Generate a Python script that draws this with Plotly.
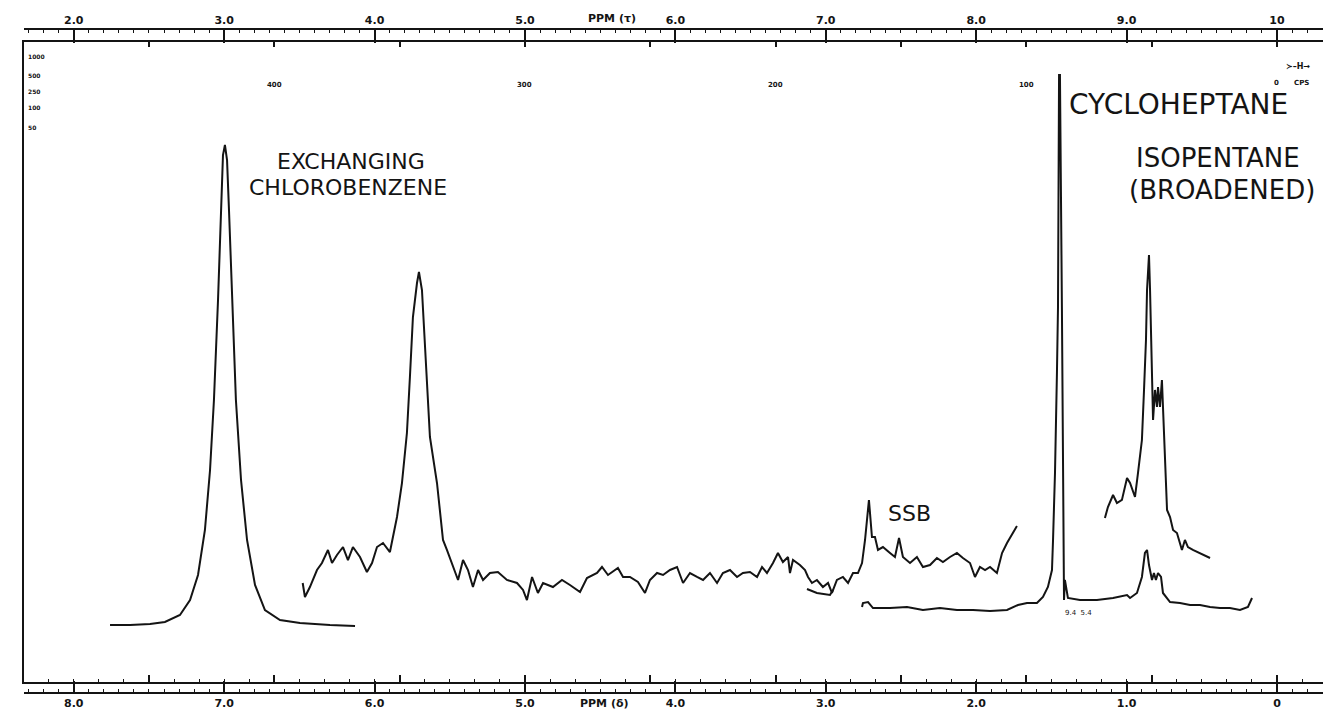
import plotly.graph_objects as go

# ---------------- data (delta ppm, relative intensity 0-100) ----------------
chloro_ppm = [7.759, 7.626, 7.493, 7.394, 7.294, 7.227, 7.174, 7.128, 7.094, 7.068, 7.041, 7.021,
              7.008, 6.995, 6.981, 6.968, 6.948, 6.922, 6.888, 6.848, 6.795, 6.729, 6.629, 6.496,
              6.297, 6.130]
chloro_int = [8.91, 8.91, 9.06, 9.38, 10.47, 12.81, 16.72, 23.75, 33.13, 44.06, 59.69, 75.31,
              82.34, 83.91, 81.56, 73.75, 59.69, 44.06, 31.56, 22.19, 15.16, 11.25, 9.69, 9.22,
              8.91, 8.75]

mid_ppm = [6.478, 6.463, 6.430, 6.383, 6.350, 6.310, 6.283, 6.250, 6.210, 6.177, 6.144, 6.097,
           6.051, 6.017, 5.984, 5.944, 5.898, 5.851, 5.818, 5.785, 5.765, 5.745, 5.718, 5.705,
           5.685, 5.665, 5.632, 5.585, 5.545, 5.519, 5.479, 5.445, 5.412, 5.379, 5.346, 5.312,
           5.279, 5.233, 5.180, 5.120, 5.053, 5.013, 4.987, 4.953, 4.914, 4.880, 4.814, 4.754,
           4.701, 4.634, 4.588, 4.521, 4.488, 4.448, 4.382, 4.348, 4.302, 4.249, 4.202, 4.169,
           4.122, 4.082, 4.036, 3.989, 3.949, 3.903, 3.856, 3.816, 3.770, 3.723, 3.684, 3.637,
           3.590, 3.551, 3.504, 3.457, 3.424, 3.391, 3.351, 3.318, 3.285, 3.251, 3.238, 3.218,
           3.172, 3.138, 3.118, 3.092, 3.059, 3.019, 2.985, 2.959, 2.926, 2.886, 2.852, 2.819,
           2.786, 2.759, 2.739, 2.713, 2.693, 2.673, 2.653, 2.620, 2.573, 2.540, 2.513, 2.487,
           2.440, 2.394, 2.354, 2.307, 2.261, 2.221, 2.174, 2.128, 2.088, 2.041, 2.008, 1.975,
           1.941, 1.908, 1.862, 1.828, 1.795, 1.762, 1.729]
mid_int = [15.47, 13.28, 14.84, 17.50, 18.59, 20.63, 18.59, 19.84, 21.09, 19.06, 21.09, 19.53,
           17.19, 18.59, 21.09, 21.72, 20.31, 25.78, 31.09, 38.91, 47.66, 57.03, 62.34, 64.06,
           61.25, 51.88, 38.28, 31.09, 22.19, 20.63, 17.97, 15.94, 19.06, 17.50, 14.84, 17.50,
           15.94, 17.03, 17.19, 15.94, 15.47, 14.38, 12.81, 16.41, 13.91, 15.47, 14.84, 15.94,
           15.16, 14.06, 16.25, 17.03, 17.97, 16.72, 17.81, 16.41, 16.41, 15.63, 13.91, 15.94,
           17.03, 16.72, 17.50, 17.97, 15.47, 17.03, 16.41, 15.94, 17.03, 15.47, 17.03, 17.50,
           16.41, 17.03, 17.19, 16.41, 17.97, 17.03, 18.59, 20.16, 18.75, 19.53, 17.03, 19.06,
           18.28, 17.50, 16.41, 15.47, 15.94, 14.84, 15.47, 13.91, 15.94, 16.41, 15.47, 17.03,
           17.03, 18.59, 22.19, 28.44, 22.66, 22.66, 20.63, 21.09, 20.16, 19.53, 22.50, 19.53,
           18.59, 19.53, 17.97, 18.28, 19.38, 18.75, 19.53, 20.16, 19.38, 18.59, 16.41, 17.97,
           17.50, 17.97, 17.03, 20.16, 21.72, 22.97, 24.38]

loop_ppm = [3.125, 3.059, 2.972, 2.952]
loop_int = [14.53, 13.91, 13.59, 14.38]

low_ppm = [2.759, 2.753, 2.719, 2.686, 2.573, 2.460, 2.354, 2.241, 2.128, 2.021, 1.908, 1.795,
           1.722, 1.662, 1.596, 1.556, 1.523, 1.496, 1.489, 1.476, 1.463, 1.456, 1.449, 1.443,
           1.430, 1.423, 1.420, 1.416, 1.410, 1.390, 1.310, 1.197, 1.090, 0.997, 0.977, 0.931,
           0.898, 0.878, 0.864, 0.851, 0.831, 0.818, 0.805, 0.791, 0.771, 0.758, 0.711, 0.645,
           0.578, 0.512, 0.445, 0.379, 0.313, 0.246, 0.193, 0.166]
low_int = [11.72, 12.34, 12.50, 11.56, 11.56, 11.72, 11.25, 11.56, 11.25, 11.25, 11.09, 11.25,
           12.03, 12.34, 12.34, 13.28, 14.84, 17.50, 22.19, 32.66, 48.28, 58.59, 94.84, 94.84,
           58.59, 37.81, 17.03, 12.81, 15.94, 13.13, 12.81, 12.81, 13.13, 13.59, 13.13, 13.91,
           16.41, 20.16, 20.63, 18.28, 15.94, 17.03, 15.94, 17.03, 16.41, 13.91, 12.50, 12.34,
           12.03, 12.03, 11.72, 11.56, 11.56, 11.25, 11.72, 13.13]

iso_ppm = [1.144, 1.124, 1.090, 1.064, 1.031, 0.997, 0.977, 0.944, 0.924, 0.898, 0.884, 0.871,
           0.864, 0.851, 0.844, 0.838, 0.831, 0.824, 0.811, 0.798, 0.791, 0.778, 0.765, 0.758,
           0.745, 0.731, 0.711, 0.691, 0.665, 0.632, 0.612, 0.592, 0.559, 0.512, 0.479, 0.445]
iso_int = [25.63, 27.34, 29.22, 27.97, 28.44, 31.88, 31.09, 28.91, 32.66, 37.81, 45.63, 53.44,
           61.25, 66.72, 61.25, 53.44, 44.06, 40.94, 45.63, 42.97, 46.09, 42.97, 47.19, 42.97,
           32.66, 26.88, 25.78, 23.75, 23.28, 20.63, 22.19, 21.09, 20.63, 20.16, 19.84, 19.38]

delta_ticks = [8, 7, 6, 5, 4, 3, 2, 1, 0]
delta_labels = ["8.0", "7.0", "6.0", "5.0", "4.0", "3.0", "2.0", "1.0", "0"]
tau_ticks = [2, 3, 4, 5, 6, 7, 8, 9, 10]
tau_labels = ["2.0", "3.0", "4.0", "5.0", "6.0", "7.0", "8.0", "9.0", "10"]
cps_ticks = [0, 50, 100, 150, 200, 250, 300, 350, 400, 450]
cps_labels = ["400", "300", "200", "100"]
cps_label_pos = [400, 300, 200, 100]
scale_labels = ["1000", "500", "250", "100", "50"]
scale_label_int = [97.7, 94.8, 92.2, 89.7, 86.7]

# ---------------- figure ----------------
X_RANGE = [8.331, -0.306]
INK = "#141414"

fig = go.Figure()
for xs, ys in [(chloro_ppm, chloro_int), (mid_ppm, mid_int), (loop_ppm, loop_int),
               (low_ppm, low_int), (iso_ppm, iso_int)]:
    fig.add_trace(go.Scatter(x=xs, y=ys, mode="lines", line=dict(color=INK, width=2),
                             showlegend=False, hoverinfo="skip"))

lab_font = dict(family="DejaVu Sans", size=11, color=INK, weight="bold")

fig.update_layout(
    width=1323, height=711,
    margin=dict(l=24, r=0, t=29, b=18, autoexpand=False),
    paper_bgcolor="white", plot_bgcolor="white",
    showlegend=False,
    xaxis=dict(range=X_RANGE, anchor="free", position=0, showline=True, linecolor=INK,
               linewidth=2, ticks="inside", ticklen=11, tickwidth=2, tickcolor=INK,
               tickmode="array", tickvals=delta_ticks, ticktext=delta_labels,
               tickfont=lab_font, showgrid=False, zeroline=False, automargin=False,
               ticklabelstandoff=0,
               minor=dict(ticks="inside", ticklen=3, tickwidth=1, tickcolor=INK,
                          tickmode="linear", tick0=0, dtick=0.1, showgrid=False)),
    xaxis2=dict(range=[10 - X_RANGE[0], 10 - X_RANGE[1]], overlaying="x", side="top",
                anchor="free", position=1, showline=True, linecolor=INK, linewidth=2,
                ticks="inside", ticklen=13, tickwidth=2, tickcolor=INK,
                tickmode="array", tickvals=tau_ticks, ticktext=tau_labels,
                tickfont=lab_font, showgrid=False, zeroline=False, automargin=False,
                minor=dict(ticks="inside", ticklen=3, tickwidth=1, tickcolor=INK,
                           tickmode="linear", tick0=0, dtick=0.1, showgrid=False)),
    xaxis3=dict(range=[60 * X_RANGE[0], 60 * X_RANGE[1]], overlaying="x", side="bottom",
                anchor="y", showline=True, linecolor=INK, linewidth=2,
                ticks="inside", ticklen=7, tickwidth=2, tickcolor=INK,
                tickmode="array", tickvals=cps_ticks, showticklabels=False,
                showgrid=False, zeroline=False, automargin=False,
                minor=dict(ticks="inside", ticklen=3, tickwidth=1, tickcolor=INK,
                           tickmode="linear", tick0=0, dtick=10, showgrid=False)),
    xaxis4=dict(range=[60 * X_RANGE[0], 60 * X_RANGE[1]], overlaying="x", side="top",
                anchor="y", showline=True, linecolor=INK, linewidth=2,
                ticks="inside", ticklen=5, tickwidth=2, tickcolor=INK,
                tickmode="array", tickvals=cps_ticks, showticklabels=False,
                showgrid=False, zeroline=False, automargin=False),
    yaxis=dict(range=[0, 100], domain=[11 / 664, 651 / 664], anchor="x", showline=True,
               linecolor=INK, linewidth=2, ticks="", showticklabels=False,
               showgrid=False, zeroline=False, automargin=False),
)
# dummy traces so the overlay axes are drawn
fig.add_trace(go.Scatter(x=[None], y=[None], xaxis="x2", showlegend=False))
fig.add_trace(go.Scatter(x=[None], y=[None], xaxis="x3", showlegend=False))
fig.add_trace(go.Scatter(x=[None], y=[None], xaxis="x4", showlegend=False))

big = dict(family="DejaVu Sans", size=22, color=INK)
bigger = dict(family="DejaVu Sans", size=26, color=INK)
biggest = dict(family="DejaVu Sans", size=28, color=INK)
# (text, left-edge ppm, intensity, font)
texts = [("EXCHANGING", 6.656, 81.4, big), ("CHLOROBENZENE", 6.842, 77.2, big),
         ("CYCLOHEPTANE", 1.390, 90.3, biggest), ("ISOPENTANE", 0.944, 81.9, bigger),
         ("(BROADENED)", 0.991, 76.9, bigger), ("SSB", 2.590, 26.4, big)]
for t, xv, yv, f in texts:
    fig.add_annotation(x=xv, y=yv, xref="x", yref="y", text=t, showarrow=False, font=f,
                       xanchor="left", borderpad=0)

small = dict(family="DejaVu Sans", size=7, color=INK, weight="bold")
for t, c in zip(cps_labels, cps_label_pos):
    fig.add_annotation(x=c / 60.0, y=93.3, xref="x", yref="y", text=t, showarrow=False,
                       font=small, borderpad=0)
fig.add_annotation(x=0.0, y=93.6, xref="x", yref="y", text="0", showarrow=False, font=small,
                   borderpad=0)
fig.add_annotation(x=-0.165, y=93.6, xref="x", yref="y", text="CPS", showarrow=False, font=small,
                   borderpad=0)
fig.add_annotation(x=-0.05, y=96.1, xref="x", yref="y", text="≻–H→", showarrow=False,
                   xanchor="left", borderpad=0,
                   font=dict(family="DejaVu Sans", size=8, color=INK, weight="bold"))
for t, yv in zip(scale_labels, scale_label_int):
    fig.add_annotation(x=0.002, y=yv, xref="paper", yref="y", text=t, showarrow=False,
                       xanchor="left", borderpad=0,
                       font=dict(family="DejaVu Sans", size=6, color=INK, weight="bold"))

fig.add_annotation(x=4.422, y=1.0151, xref="x", yref="paper", text="PPM (τ)", showarrow=False,
                   yanchor="middle", font=lab_font)
fig.add_annotation(x=4.468, y=-0.0151, xref="x", yref="paper", text="PPM (δ)", showarrow=False,
                   yanchor="middle", font=lab_font)
fig.add_annotation(x=1.32, y=10.8, xref="x", yref="y", text="9.4  5.4", showarrow=False,
                   font=dict(family="DejaVu Sans", size=7, color=INK))

# the page body margin would push the 1323x711 figure off the window; remove it
fig.write_html("out.html",
               config={"displayModeBar": False},
               post_script="document.body.style.margin='0';"
                           "document.body.style.overflow='hidden';")
